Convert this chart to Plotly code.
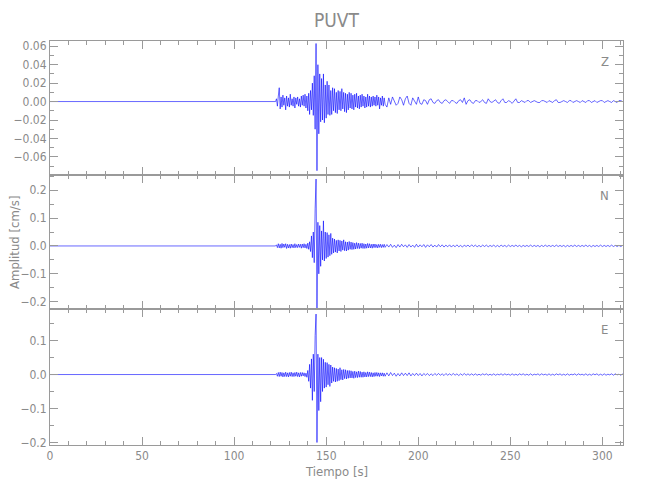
import numpy as np
import plotly.graph_objects as go

# ---------------- data (amplitudes listed in units of 1e-3 cm/s) ----------------
STATION = "PUVT"
CHANNELS = ["Z", "N", "E"]
UNIT = 1e-3

PRE_TIME = [0.0, 122.0]          # quiet part before the P onset
PRE_AMP = [0, 0]
FAST_START = 122.5               # densely read part (0.5 s samples)
FAST_STEP = 0.5
SLOW_STEP = 1.0                  # coda read at 1 s samples

Z_FAST = [0, 3, -5, 6, 15, -8, 5, -6, 7, -4, 4, -9, 6, -5, 4, -6, 8, -4, 3, -5,
          5, -7, 4, -3, 5, -5, 3, -6, 6, -4, 7, -5, 8, -7, 6, -10, 9, -14, 12,
          -9, 20, -15, 28, -30, 63, -75, 40, -35, 30, -22, 25, -20, 30, -23, 18,
          -18, 22, -14, 18, -15, 12, -14, 15, -10, 14, -12, 10, -13, 12, -9, 11,
          -10, 14, -8, 10, -11, 9, -12, 8, -9, 10, -7, 9, -8, 7, -9, 8, -6, 9,
          -7, 6, -8, 7, -6, 8, -5, 6, -7, 5, -6, 8, -5, 6, -6, 5, -5, 6, -4, 5,
          -5, 7, -4, 5, -8, 4, -4, 6, -5, 4, -3]
Z_SLOW = [-6, 4, -3, 5, 1, -4, -2, 5, 2, -4, 3, 6, -2, -4, 4, 1, -3, 5, -2,
          -3, 2, 1, -3, 2, 3, -1, -2, 1,
          2, -1, -2, 1, 2, 0, -2, 1, 1, -1, -2, 1, 2, -1,
          4, -3,
          1, 2, -1, -2, 1, 1, -1, 0, 2, -1, -2, 3, 0, -1, 1, 2, -1, -2, 1, 3,
          -1, -1, 1, 0, -2, 1, 3, -1, -1,
          1, 0, -1, 1, 1, -1, 0, 1, 0, -1, -1, 1, 1, 0, -1, 1, 0, -1, 1, 2,
          -1, -1, 0, 1, 0, -1, 1, 1, -1, 0, 1, 0, -1, 1, 0, -1, 1, 1, -1, 0,
          1, -1, 0, 1, 1, -1, 0, 1, 0, -1, 1, 0, -1, 1, 1, 0]

N_FAST = [0, 4, -6, 8, -7, 6, -8, 9, -6, 7, -5, 8, -9, 6, -7, 5, -8, 7, -6, 5,
          -7, 8, -6, 5, -6, 7, -5, 6, -8, 7, -6, 8, -7, 6, -9, 10, -12, 15, -20,
          36, -42, 50, -60, 133, 240, -224, 85, -100, 73, -73, 54, -50, 90, -54,
          50, -45, 48, -40, 40, -35, 45, -30, 28, -25, 25, -22, 20, -25, 22, -18,
          20, -20, 18, -15, 22, -17, 15, -18, 14, -15, 16, -12, 14, -13, 12, -12,
          10, -11, 12, -9, 10, -10, 9, -8, 10, -9, 8, -9, 7, -8, 9, -7, 8, -7, 6,
          -8, 7, -6, 7, -6, 5, -7, 6, -5, 6, -6, 5, -5, 6, -5]
N_SLOW = [5, -4, 6, -5, 3, -6, 5, -4, 6, -3, 4, -5, 5, -4, 3, -5, 6, -4, 4, -3,
          5, -5, 4, -3, 5, -4, 3, -4, 5, -3, 4, -4, 3, -3, 4, -4,
          3, -3, 4, -3, 2, -4, 3, -2, 3, -3, 4, -2, 3, -3, 2, -3, 3, -2, 3, -3,
          2, -2, 3, -3, 2, -3, 3, -2, 2, -3, 3, -2,
          2, -2, 3, -2, 2, -3, 2, -2, 2, -2, 3, -2, 2, -2, 2, -3, 2, -2, 3, -2,
          2, -2, 2, -2, 3, -2, 2, -2, 2, -3, 2, -2, 2, -2, 3, -2, 2, -2, 2, -2,
          3, -2, 2, -3, 2, -2, 2, -2, 3, -2, 2, -2, 2, -2, 3, -2, 2, -2, 2, -2, 2]

E_FAST = [0, 3, -5, 6, -6, 7, -5, 6, -7, 5, -6, 7, -6, 5, -7, 6, -5, 7, -6, 5,
          -6, 6, -5, 7, -6, 5, -7, 6, -5, 6, -4, 5, -6, 4, -8, 12, -20, 30, -40,
          46, -76, 60, -50, 115, 178, -200, 60, -106, 50, -80, 50, -50, 45, -40,
          36, -37, 35, -30, 30, -35, 28, -25, 22, -20, 20, -22, 18, -20, 16, -18,
          20, -15, 14, -16, 15, -12, 14, -13, 12, -11, 12, -10, 11, -10, 9, -11,
          10, -9, 8, -9, 10, -8, 9, -8, 7, -8, 8, -7, 6, -7, 8, -6, 7, -6, 6, -7,
          5, -6, 6, -5, 6, -5, 5, -6, 5, -4, 5, -5, 4, -5]
E_SLOW = [5, -4, 6, -3, 4, -5, 3, -4, 5, -3, 4, -3, 5, -4, 3, -3, 4, -3,
          3, -4, 3, -2, 3, -3, 2, -3, 3, -2, 3, -2, 2, -3, 3, -2, 2, -2, 3, -2,
          2, -3, 2, -2, 3, -2, 2, -2, 2, -2,
          2, -2, 1, -2, 2, -1, 2, -2, 1, -2, 2, -2, 1, -1, 2, -2, 2, -1, 1, -2,
          2, -2, 1, -2, 2, -1, 2, -2, 1, -2, 2, -2, 1, -1, 2, -2, 2, -1, 1, -2,
          2, -2, 1, -2, 2, -1, 2, -2, 1, -2, 2, -2, 1, -1, 2, -2, 2, -1, 1, -2,
          2, -2, 1, -2, 2, -1, 2, -2, 1, -2, 2, -2, 1, -1, 2, -2, 2, -1, 1, -2, 2]

Y_TICKS = [[0.06, 0.04, 0.02, 0.0, -0.02, -0.04, -0.06],
           [0.2, 0.1, 0.0, -0.1, -0.2],
           [0.1, 0.0, -0.1, -0.2]]
X_TICKS = [0, 50, 100, 150, 200, 250, 300]

# ---------------- style ----------------
FONT = "Liberation Sans Narrow, DejaVu Sans Condensed, Arial Narrow, Liberation Sans, sans-serif"
TXT = "#8a8a8a"
AX = "#9a9a9a"
BLUE = "#0000ff"

Y_RANGES = [[-0.0799, 0.0657], [-0.2265, 0.2538], [-0.2074, 0.1926]]
Y_FMT = [".2f", ".1f", ".1f"]
Y_MINOR = [0.01, 0.05, 0.05]
DOMAINS = [[0.6678, 1.0], [0.3364, 0.6678], [0.0, 0.3364]]
X_RANGE = [0, 311.2]


def series(fast, slow):
    t_fast = FAST_START + FAST_STEP * np.arange(len(fast))
    t_slow = t_fast[-1] + SLOW_STEP * (1 + np.arange(len(slow)))
    t = np.concatenate([PRE_TIME, t_fast, t_slow])
    a = np.concatenate([PRE_AMP, fast, slow]) * UNIT
    return t, a


DATA = [(Z_FAST, Z_SLOW), (N_FAST, N_SLOW), (E_FAST, E_SLOW)]

fig = go.Figure()
# the page body adds an 8 px offset, so the figure is sized to fit inside the window
layout = dict(
    width=642, height=492,
    margin=dict(l=41.5, r=26.5, t=33, b=54.7, autoexpand=False),
    paper_bgcolor="white", plot_bgcolor="white",
    showlegend=False,
    font=dict(family=FONT, color=TXT, size=12),
)

annotations = []
for i, (fast, slow) in enumerate(DATA):
    t, a = series(fast, slow)
    n = "" if i == 0 else str(i + 1)
    fig.add_trace(go.Scatter(x=t, y=a, mode="lines",
                             line=dict(color=BLUE, width=0.6),
                             xaxis="x" + n, yaxis="y" + n, hoverinfo="skip"))
    xa = dict(
        domain=[0, 1], anchor="y" + n, range=X_RANGE, automargin=False,
        showline=True, linecolor=AX, linewidth=1, mirror="allticks",
        ticks="inside", ticklen=8, tickcolor=AX, tickwidth=1,
        tickvals=X_TICKS, showticklabels=(i == 2),
        tickfont=dict(family=FONT, color=TXT, size=12),
        minor=dict(ticks="inside", dtick=10, tick0=0, ticklen=4, tickcolor=AX, tickwidth=1),
        showgrid=False, zeroline=False,
    )
    if i > 0:
        xa["matches"] = "x"
    layout["xaxis" + n] = xa
    layout["yaxis" + n] = dict(
        domain=DOMAINS[i], anchor="x" + n, range=Y_RANGES[i], automargin=False,
        showline=True, linecolor=AX, linewidth=1, mirror="allticks",
        ticks="inside", ticklen=8, tickcolor=AX, tickwidth=1,
        tickvals=Y_TICKS[i], tickformat=Y_FMT[i],
        tickfont=dict(family=FONT, color=TXT, size=12),
        minor=dict(ticks="inside", dtick=Y_MINOR[i], tick0=0, ticklen=4, tickcolor=AX, tickwidth=1),
        showgrid=False, zeroline=False,
    )
    annotations.append(dict(
        text=CHANNELS[i], xref="x" + n + " domain", yref="y" + n + " domain",
        x=0.968, y=0.85, xanchor="center", yanchor="middle", showarrow=False,
        font=dict(family=FONT, color=TXT, size=13),
    ))

annotations += [
    dict(text=STATION, xref="paper", yref="paper", x=0.5, y=1.0, yshift=21,
         yanchor="middle", showarrow=False, font=dict(family=FONT, color=TXT, size=19)),
    dict(text="Tiempo [s]", xref="paper", yref="paper", x=0.5, y=0.0, yshift=-26,
         yanchor="middle", showarrow=False, font=dict(family=FONT, color=TXT, size=13)),
    dict(text="Amplitud [cm/s]", xref="paper", yref="paper", x=0.0, xshift=-36,
         xanchor="center", y=0.5, textangle=-90, showarrow=False,
         font=dict(family=FONT, color=TXT, size=13)),
]
layout["annotations"] = annotations
fig.update_layout(**layout)

fig.write_html("out.html")
